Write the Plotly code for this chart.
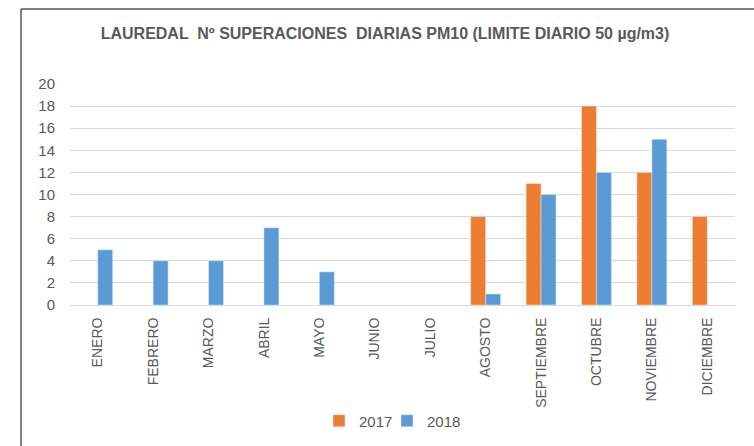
import plotly.graph_objects as go

months = ["ENERO", "FEBRERO", "MARZO", "ABRIL", "MAYO", "JUNIO", "JULIO",
          "AGOSTO", "SEPTIEMBRE", "OCTUBRE", "NOVIEMBRE", "DICIEMBRE"]
values_2017 = [None, None, None, None, None, None, None, 8, 11, 18, 12, 8]
values_2018 = [5, 4, 4, 7, 3, None, None, 1, 10, 12, 15, None]
title_text = "LAUREDAL  Nº SUPERACIONES  DIARIAS PM10 (LIMITE DIARIO 50 µg/m3)"

FONT = "Liberation Sans, Arial, sans-serif"
GRAY = "#595959"

fig = go.Figure()
fig.add_trace(go.Bar(name="2017", x=months, y=values_2017, marker_color="#ED7D31",
                     legend="legend", showlegend=True))
fig.add_trace(go.Bar(name="2018", x=months, y=values_2018, marker_color="#5B9BD5",
                     legend="legend2", showlegend=True))

L, R, T, B = 70, 19, 84, 141
W, H = 754, 446
pw, ph = W - L - R, H - T - B

def px_x(p):
    return (p - L) / pw

def px_y(p):
    return (H - B - p) / ph

leg_common = dict(orientation="h", y=px_y(421), yanchor="middle", xanchor="left",
                  font=dict(family=FONT, size=15, color=GRAY), itemwidth=30,
                  bgcolor="rgba(0,0,0,0)")

fig.update_layout(
    width=W, height=H, showlegend=True,
    margin=dict(l=L, r=R, t=T, b=B, autoexpand=False),
    paper_bgcolor="white", plot_bgcolor="white",
    barmode="group", bargap=0.46, bargroupgap=0,
    font=dict(family=FONT, size=14, color=GRAY),
    title=dict(text="<b>" + title_text + "</b>", x=385 / W, xanchor="center",
               y=1 - 33 / H, yanchor="middle",
               font=dict(family=FONT, size=16, color=GRAY)),
    legend=dict(x=px_x(319), **leg_common),
    legend2=dict(x=px_x(387), **leg_common),
    xaxis=dict(tickangle=-90, showgrid=False, showline=True, linecolor="#d9d9d9",
               linewidth=1, ticks="", ticklabelstandoff=6,
               tickfont=dict(family=FONT, size=14, color=GRAY)),
    yaxis=dict(range=[0, 20], dtick=2, tick0=0, showgrid=True, gridcolor="#d9d9d9",
               gridwidth=1, zeroline=False, showline=False, ticks="",
               ticklabelstandoff=14, tickfont=dict(family=FONT, size=15, color=GRAY)),
    shapes=[
        dict(type="line", xref="paper", yref="paper", x0=px_x(21), x1=px_x(760),
             y0=px_y(9), y1=px_y(9), line=dict(color="#808080", width=2)),
        dict(type="line", xref="paper", yref="paper", x0=px_x(21), x1=px_x(21),
             y0=px_y(9), y1=px_y(450), line=dict(color="#808080", width=2)),
    ],
)

fig.write_html("out.html", config={"displayModeBar": False},
               post_script="document.body.style.margin='0';")
